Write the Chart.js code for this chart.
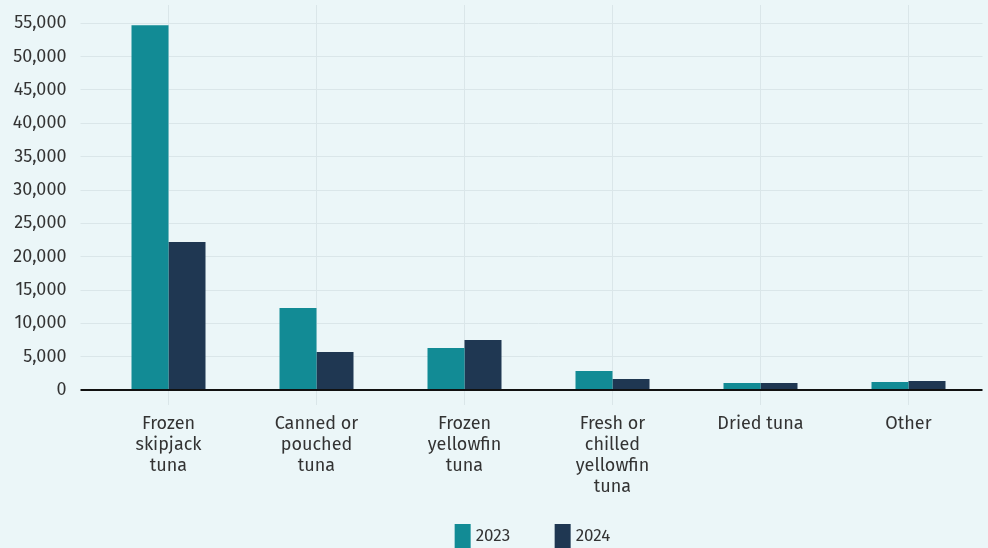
<!DOCTYPE html>
<html>
<head>
<meta charset="utf-8">
<style>
  html, body { margin: 0; padding: 0; background: #ebf6f8; overflow: hidden; }
  #wrap { width: 988px; height: 548px; position: relative; }
</style>
<script src="https://cdn.jsdelivr.net/npm/chart.js@4"></script>
</head>
<body>
<div id="wrap"><canvas id="chart"></canvas></div>
<script>
// Tuna export volumes by product type
const categories = [
  ['Frozen', 'skipjack', 'tuna'],
  ['Canned or', 'pouched', 'tuna'],
  ['Frozen', 'yellowfin', 'tuna'],
  ['Fresh or', 'chilled', 'yellowfin', 'tuna'],
  ['Dried tuna'],
  ['Other']
];
const seriesLabels = ['2023', '2024'];
const values2023 = [54700, 12300, 6300, 2850, 1050, 1200];
const values2024 = [22200, 5700, 7500, 1650, 1050, 1350];
const yTickValues = [0, 5000, 10000, 15000, 20000, 25000, 30000, 35000, 40000, 45000, 50000, 55000];

const fontFamily = "'Fira Sans', 'Noto Sans', sans-serif";
const textColor = '#333333';
const gridColor = '#dae6e9';
const seriesColors = ['#128b95', '#1f3752'];

Chart.defaults.font.family = fontFamily;
Chart.defaults.font.size = 16;
Chart.defaults.color = textColor;

// Legend drawn below the axis labels
const bottomLegend = {
  id: 'bottomLegend',
  afterDraw(chart) {
    const { ctx, chartArea } = chart;
    const sets = chart.data.datasets;
    const boxW = 16, boxH = 24, gap = 5, step = 100, top = 524;
    ctx.save();
    ctx.font = '17px ' + fontFamily;
    const lastW = ctx.measureText(sets[sets.length - 1].label).width;
    const total = step * (sets.length - 1) + boxW + gap + lastW;
    let x = (chartArea.left + chartArea.right) / 2 - total / 2 - 6;
    sets.forEach(ds => {
      ctx.fillStyle = ds.backgroundColor;
      ctx.fillRect(x, top, boxW, boxH);
      ctx.fillStyle = textColor;
      ctx.textAlign = 'left';
      ctx.textBaseline = 'middle';
      ctx.fillText(ds.label, x + boxW + gap, top + boxH / 2);
      x += step;
    });
    ctx.restore();
  }
};

new Chart(document.getElementById('chart'), {
  type: 'bar',
  data: {
    labels: categories,
    datasets: [
      { label: seriesLabels[0], data: values2023, backgroundColor: seriesColors[0] },
      { label: seriesLabels[1], data: values2024, backgroundColor: seriesColors[1] }
    ]
  },
  options: {
    responsive: true,
    maintainAspectRatio: false,
    animation: false,
    datasets: { bar: { categoryPercentage: 0.5, barPercentage: 1.0 } },
    layout: { padding: { top: 5, right: 5.5, bottom: 38, left: 0 } },
    plugins: { legend: { display: false }, tooltip: { enabled: false } },
    scales: {
      x: {
        grid: {
          offset: false,
          color: gridColor,
          lineWidth: 1,
          tickLength: 15,
          drawTicks: true
        },
        border: { display: false },
        ticks: {
          maxRotation: 0,
          autoSkip: false,
          padding: 8,
          color: textColor,
          font: { size: 18, lineHeight: '21px' }
        },
        afterFit(scale) {
          scale.height = 120;
          scale.paddingLeft = 0;
          scale.paddingRight = 0;
        }
      },
      y: {
        min: 0,
        max: 57750,
        afterBuildTicks(scale) {
          scale.ticks = yTickValues.map(v => ({ value: v }));
        },
        grid: {
          color: ctx => (ctx.tick && ctx.tick.value === 0) ? '#111111' : gridColor,
          lineWidth: ctx => (ctx.tick && ctx.tick.value === 0) ? 2 : 1,
          tickLength: 14,
          drawTicks: true
        },
        border: { display: false },
        ticks: {
          padding: 14,
          color: textColor,
          font: { size: 18 },
          callback: v => Number(v).toLocaleString('en-US')
        },
        afterFit(scale) {
          scale.width = 94.5;
          scale.paddingTop = 0;
          scale.paddingBottom = 0;
        }
      }
    }
  },
  plugins: [bottomLegend]
});
</script>
</body>
</html>
